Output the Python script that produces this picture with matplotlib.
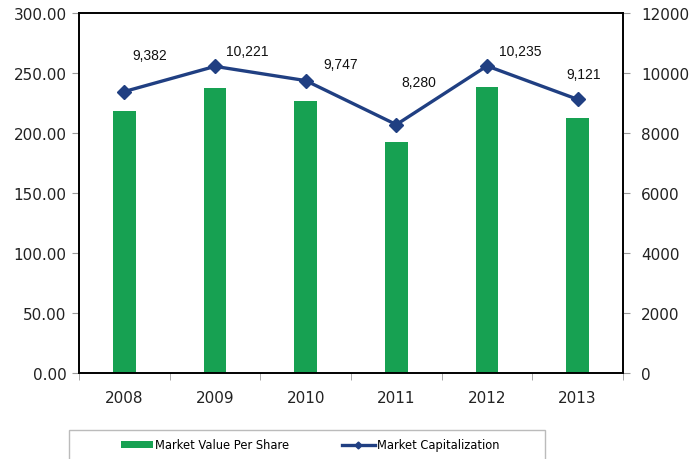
import matplotlib
matplotlib.use("Agg")
import matplotlib.pyplot as plt
from matplotlib.patches import Rectangle
from matplotlib.lines import Line2D
from matplotlib.ticker import FormatStrFormatter

# data
years = ["2008", "2009", "2010", "2011", "2012", "2013"]
value_per_share = [218.6, 237.8, 226.7, 192.5, 238.3, 212.2]
market_cap = [9382, 10221, 9747, 8280, 10235, 9121]
cap_labels = ["9,382", "10,221", "9,747", "8,280", "10,235", "9,121"]

# label offsets in points (manually placed in the original)
label_offsets = [(18, 26), (23, 11), (25, 12), (16, 31), (24, 11), (4, 18)]

green = "#17A152"
navy = "#203F82"
tick_grey = "#9a9a9a"

fig = plt.figure(figsize=(6.9, 4.6), dpi=100)
ax = fig.add_axes([79 / 690, 86 / 460, 544 / 690, 360 / 460])
ax2 = ax.twinx()

x = list(range(len(years)))
bars = ax.bar(x, value_per_share, width=0.25, color=green, zorder=2,
              label="Market Value Per Share")
line, = ax2.plot(x, market_cap, color=navy, lw=2.4, marker="D", ms=7,
                 label="Market Capitalization", zorder=3)

for xi, v, txt, off in zip(x, market_cap, cap_labels, label_offsets):
    ax2.annotate(txt, (xi, v), xytext=off, textcoords="offset points",
                 ha="center", va="center", fontsize=10,
                 family="Liberation Sans", color="#111111")

ax.set_xlim(-0.5, len(years) - 0.5)
ax.set_ylim(0, 300)
ax2.set_ylim(0, 12000)
ax.set_yticks(range(0, 301, 50))
ax2.set_yticks(range(0, 12001, 2000))
ax.yaxis.set_major_formatter(FormatStrFormatter("%.2f"))

ax.set_xticks(x)
ax.set_xticklabels(years)
ax.set_xticks([i - 0.5 for i in range(len(years) + 1)], minor=True)
ax.tick_params(axis="x", which="major", length=0, pad=12, labelsize=11,
               labelcolor="#222222")
ax.tick_params(axis="x", which="minor", length=5, color=tick_grey)
ax.tick_params(axis="y", length=5, color=tick_grey, labelsize=11,
               labelcolor="#222222", pad=4)
ax2.tick_params(axis="y", length=5, color=tick_grey, labelsize=11,
                labelcolor="#222222", pad=8)

for a in (ax, ax2):
    for s in a.spines.values():
        s.set_color("black")
        s.set_linewidth(1.2)

# legend box at the bottom
fig.patches.append(Rectangle((69 / 690, -0.05), 476 / 690, 0.113,
                             transform=fig.transFigure, fill=False,
                             edgecolor="#bbbbbb", lw=1))
line_proxy = Line2D([], [], color=navy, lw=2.4, marker="D", ms=3.5)
fig.legend([bars, line_proxy],
           ["Market Value Per Share", "Market Capitalization"],
           loc="center", bbox_to_anchor=(310 / 690, 14 / 460), ncol=2,
           frameon=False, fontsize=8.3, handlelength=2.8, handletextpad=0.2,
           columnspacing=4.6, handleheight=0.6)

fig.savefig("out.png", dpi=100)
